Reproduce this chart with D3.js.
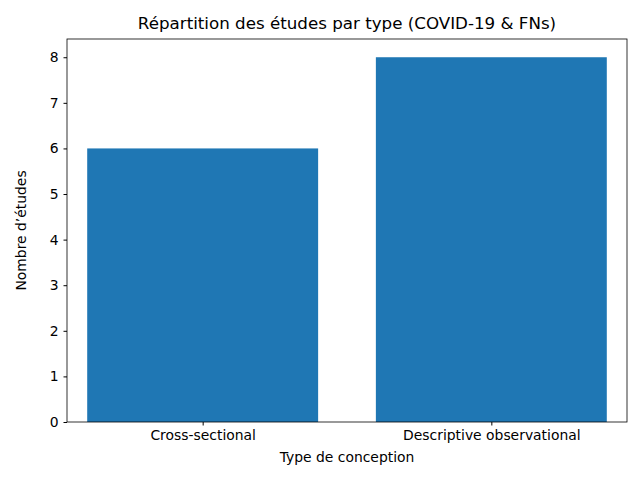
<!DOCTYPE html>
<html><head><meta charset="utf-8">
<script src="https://cdn.jsdelivr.net/npm/d3@7"></script>
<style>body{margin:0;background:#fff}text{font-family:"DejaVu Sans",sans-serif;fill:#000}</style>
</head><body>
<svg id="chart" width="640" height="480"></svg>
<script>
var categories = ["Cross-sectional", "Descriptive observational"];
var counts = [6, 8];
var yTicks = [0, 1, 2, 3, 4, 5, 6, 7, 8];

var svg = d3.select("#chart");
var mLeft = 67, mRight = 627, mTop = 39, mBottom = 422;

var x = d3.scaleLinear().domain([-0.47, 1.47]).range([mLeft, mRight]);
var y = d3.scaleLinear().domain([0, 8.4]).range([mBottom, mTop]);

// bars
svg.selectAll("rect.bar").data(counts).enter().append("rect")
  .attr("x", function (d, i) { return x(i - 0.4); })
  .attr("width", function () { return x(0.4) - x(-0.4); })
  .attr("y", function (d) { return y(d); })
  .attr("height", function (d) { return y(0) - y(d); })
  .style("fill", "#1f77b4");

// axes
var yAxis = d3.axisLeft(y).tickValues(yTicks).tickSize(3.5).tickPadding(5);
svg.append("g").attr("transform", "translate(" + mLeft + ",0)").call(yAxis)
  .call(function (g) { g.selectAll("text").style("font-size", "13.9px"); g.select(".domain").remove(); });

var xAxis = d3.axisBottom(x).tickValues([0, 1]).tickFormat(function (d) { return categories[d]; })
  .tickSize(3.5).tickPadding(5);
svg.append("g").attr("transform", "translate(0," + mBottom + ")").call(xAxis)
  .call(function (g) { g.selectAll("text").style("font-size", "13.9px"); g.select(".domain").remove(); });

// frame
svg.append("rect").attr("x", mLeft).attr("y", mTop).attr("width", mRight - mLeft).attr("height", mBottom - mTop)
  .style("fill", "none").style("stroke", "#000").style("stroke-width", 0.8);

svg.append("text").attr("x", (mLeft + mRight) / 2).attr("y", 29).attr("text-anchor", "middle")
  .style("font-size", "16.7px").text("Répartition des études par type (COVID-19 & FNs)");
svg.append("text").attr("x", (mLeft + mRight) / 2).attr("y", 462).attr("text-anchor", "middle")
  .style("font-size", "13.9px").text("Type de conception");
svg.append("text").attr("transform", "translate(26," + (mTop + mBottom) / 2 + ") rotate(-90)")
  .attr("text-anchor", "middle").style("font-size", "13.9px").text("Nombre d’études");
</script>
</body></html>
